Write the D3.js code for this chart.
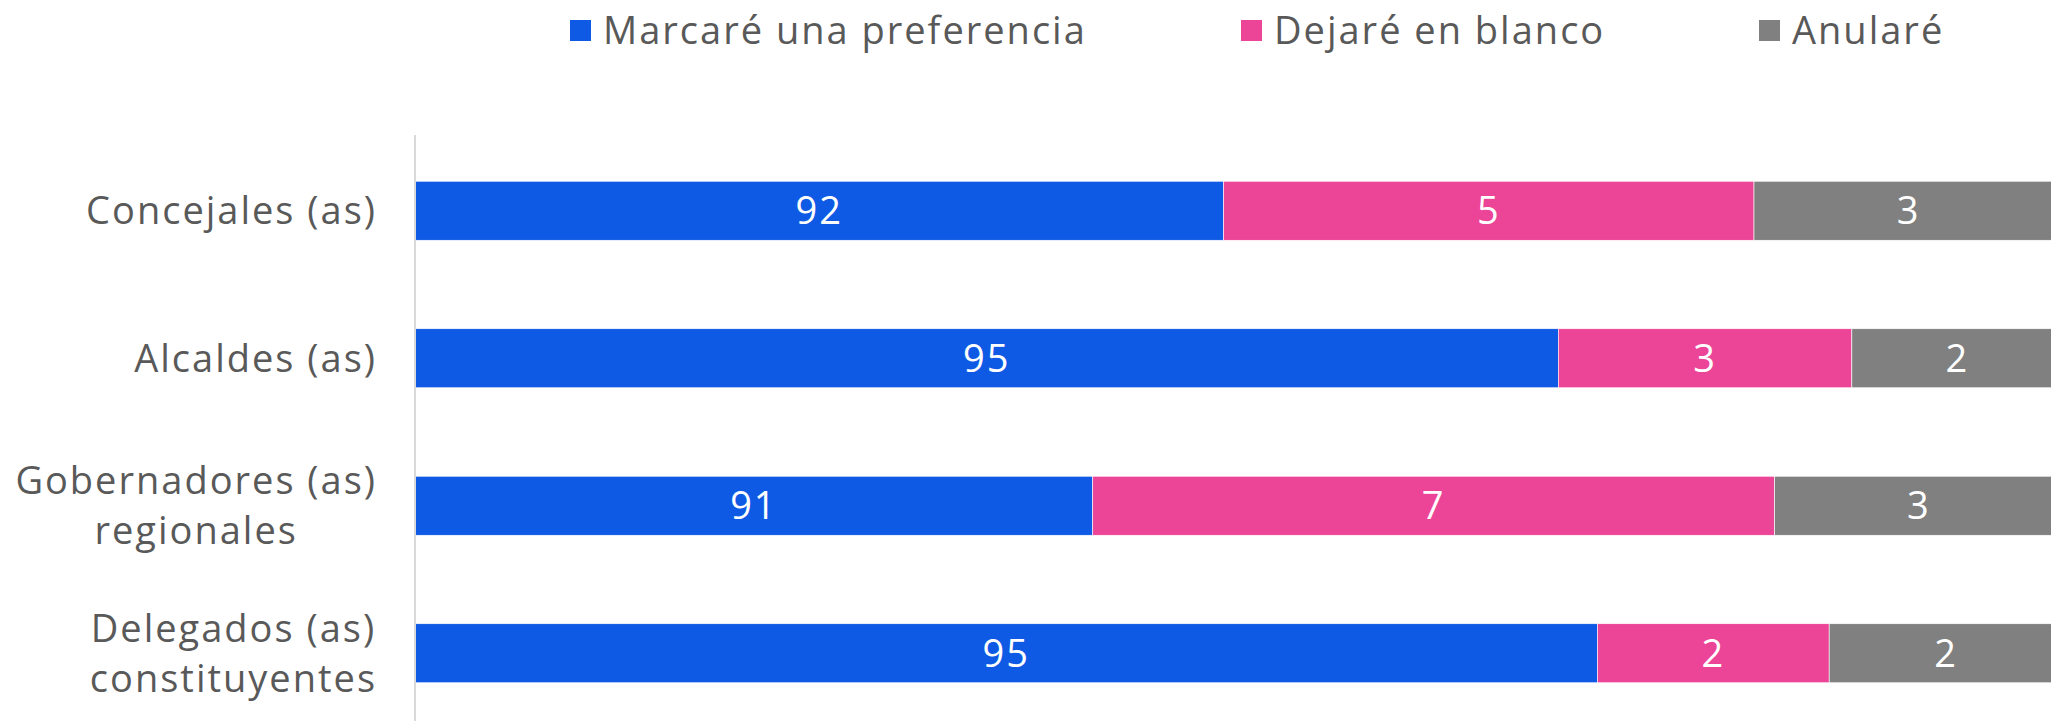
<!DOCTYPE html>
<html>
<head>
<meta charset="utf-8">
<script src="https://cdn.jsdelivr.net/npm/d3@7"></script>
<style>
  body { margin: 0; background: #fff; }
  text { font-family: "Open Sans", sans-serif; }
</style>
</head>
<body>
<div id="plot"></div>
<script>
var categories = ["Concejales (as)", "Alcaldes (as)", "Gobernadores (as)\nregionales", "Delegados (as)\nconstituyentes"];
var seriesNames = ["Marcaré una preferencia", "Dejaré en blanco", "Anularé"];
var marcare = [91.85, 95.1, 90.58, 95.48];
var blanco = [5.15, 2.85, 6.62, 2.25];
var anulare = [3.0, 2.05, 2.8, 2.27];
var colors = ["#0f5ae5", "#ec4497", "#808080"];

var svgWidth = 2051;
var svgHeight = 721;

var svg = d3.select("#plot")
  .append("svg")
  .attr("width", svgWidth)
  .attr("height", svgHeight);

var rows = categories.map(function (c, i) {
  return { cat: c, s0: marcare[i], s1: blanco[i], s2: anulare[i] };
});

var stack = d3.stack().keys(["s0", "s1", "s2"]);
var series = stack(rows);

// axis starts at 84, the 100 end runs past the right edge
var xScale = d3.scaleLinear()
  .domain([84, 100])
  .range([415, 2063]);

var yScale = d3.scaleBand()
  .domain(categories)
  .range([137, 727])
  .paddingInner(0.6)
  .paddingOuter(0.3);

var layers = svg.selectAll("g.layer")
  .data(series)
  .enter()
  .append("g")
  .attr("class", "layer")
  .attr("fill", (d, i) => colors[i]);

layers.selectAll("rect")
  .data(d => d)
  .enter()
  .append("rect")
  .attr("x", d => xScale(Math.max(d[0], 84)))
  .attr("y", d => yScale(d.data.cat))
  .attr("width", d => xScale(d[1]) - xScale(Math.max(d[0], 84)))
  .attr("height", yScale.bandwidth())
  .attr("stroke", "#ffffff")
  .attr("stroke-width", 0.6);

layers.selectAll("text")
  .data(d => d)
  .enter()
  .append("text")
  .attr("x", d => (xScale(Math.max(d[0], 84)) + xScale(d[1])) / 2)
  .attr("y", d => yScale(d.data.cat) + yScale.bandwidth() / 2)
  .attr("dy", "0.36em")
  .attr("text-anchor", "middle")
  .attr("fill", "#ffffff")
  .style("font-size", "38px")
  .style("letter-spacing", "2px")
  .text(d => Math.round(d[1] - d[0]));

// vertical axis line with wrapped category labels
var leftAxis = d3.axisLeft(yScale).tickSize(0).tickPadding(40);
var axisG = svg.append("g")
  .attr("transform", `translate(${xScale(84)}, 0)`)
  .call(leftAxis);

axisG.select(".domain").remove();
axisG.append("line")
  .attr("x1", 0).attr("x2", 0)
  .attr("y1", 135).attr("y2", 721)
  .attr("stroke", "#d9d9d9")
  .attr("stroke-width", 2);

axisG.selectAll(".tick text")
  .attr("fill", "#595959")
  .style("font-size", "38px")
  .style("letter-spacing", "2px")
  .style("font-family", "'Open Sans', sans-serif")
  .each(function (d) {
    var lines = d.split("\n");
    var t = d3.select(this).text(null).attr("dy", null).attr("text-anchor", "middle");
    var lh = 50;
    var spans = lines.map(function (l, i) {
      return t.append("tspan")
        .attr("y", (i - (lines.length - 1) / 2) * lh)
        .attr("dy", "0.36em")
        .text(l);
    });
    // block right aligned, lines centred inside it
    var maxW = d3.max(spans, s => s.node().getComputedTextLength());
    spans.forEach(s => s.attr("x", -38 - maxW / 2));
  });

// legend
var legendX = [570, 1241, 1759];
var legend = svg.selectAll("g.legend")
  .data(seriesNames)
  .enter()
  .append("g")
  .attr("class", "legend")
  .attr("transform", (d, i) => `translate(${legendX[i]}, 20)`);

legend.append("rect")
  .attr("width", 21)
  .attr("height", 21)
  .attr("fill", (d, i) => colors[i]);

legend.append("text")
  .attr("x", 33)
  .attr("y", 10.5)
  .attr("dy", "0.36em")
  .attr("fill", "#595959")
  .style("font-size", "38px")
  .style("letter-spacing", "2px")
  .text(d => d);
</script>
</body>
</html>
